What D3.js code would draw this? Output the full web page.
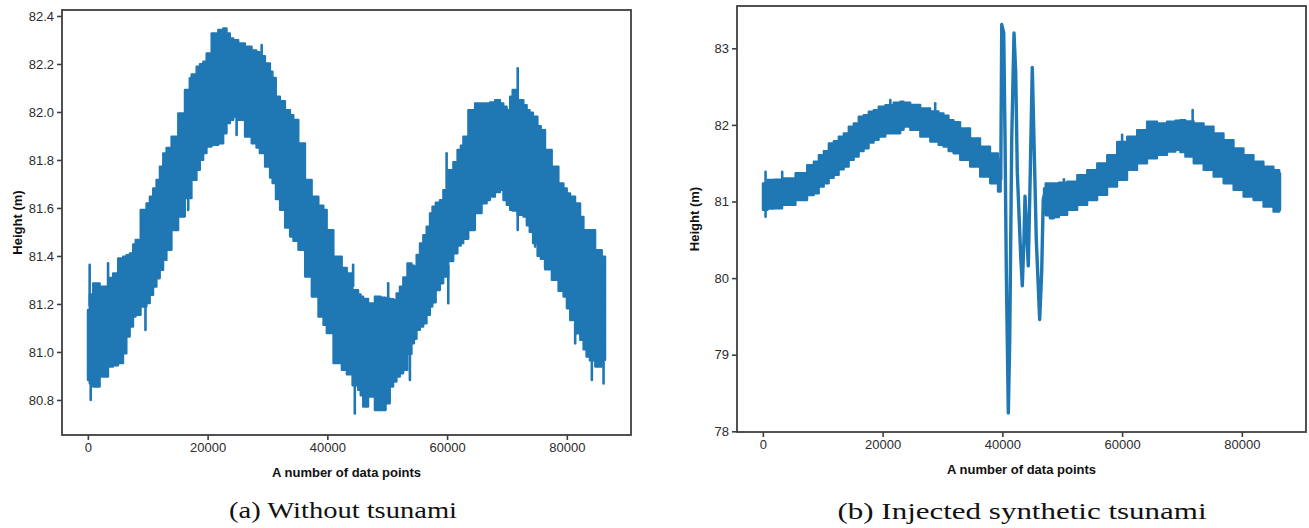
<!DOCTYPE html>
<html><head><meta charset="utf-8">
<script src="https://cdn.jsdelivr.net/npm/d3@7"></script>
<style>body{margin:0;background:#fff;}svg{display:block;}</style>
</head><body>
<svg id="chart" width="1309" height="528"></svg>
<script>
// ---------- data ----------
const xTicks = [0, 20000, 40000, 60000, 80000];
const xTickLabels = ["0", "20000", "40000", "60000", "80000"];
const leftYTicks = [80.8, 81.0, 81.2, 81.4, 81.6, 81.8, 82.0, 82.2, 82.4];
const leftYTickLabels = ["80.8", "81.0", "81.2", "81.4", "81.6", "81.8", "82.0", "82.2", "82.4"];
const rightYTicks = [78, 79, 80, 81, 82, 83];
const rightYTickLabels = ["78", "79", "80", "81", "82", "83"];
const xAxisTitle = "A number of data points";
const yAxisTitle = "Height (m)";
const captions = ["(a) Without tsunami", "(b) Injected synthetic tsunami"];

// (a) upper / lower envelope of the noisy band: [data point, height]
const leftUpper = [[0,81.175],[600,81.24],[1144,81.286],[2817,81.272],[4490,81.328],[5605,81.39],[7278,81.411],[8115,81.467],[9510,81.592],[10625,81.647],[11740,81.717],[12856,81.828],[14529,81.897],[15644,81.994],[16760,82.092],[18432,82.189],[19548,82.21],[20105,82.244],[21221,82.328],[22894,82.349],[24009,82.307],[25682,82.286],[26798,82.272],[28400,82.25],[30144,82.203],[30702,82.168],[31818,82.064],[33491,82.008],[34606,81.967],[35722,81.869],[36837,81.717],[37952,81.647],[39625,81.592],[40183,81.508],[41856,81.397],[43529,81.328],[44864,81.258],[45700,81.231],[47374,81.203],[48489,81.231],[51278,81.217],[52393,81.272],[53787,81.369],[54624,81.356],[55740,81.453],[56855,81.522],[57691,81.606],[59085,81.633],[60758,81.758],[62153,81.842],[62989,81.897],[64105,82.008],[65220,82.036],[66893,82.036],[68566,82.05],[70240,82.008],[71076,82.092],[72470,82.05],[73585,82.008],[74701,81.981],[75816,81.925],[76932,81.842],[78047,81.772],[79162,81.703],[80278,81.661],[81951,81.619],[83066,81.508],[84182,81.508],[85297,81.425],[86400,81.397]];
const leftLower = [[0,80.883],[1144,80.856],[2817,80.897],[3933,80.939],[5605,80.953],[6163,80.994],[6721,81.064],[7836,81.147],[10067,81.203],[11183,81.272],[12298,81.342],[13413,81.425],[14529,81.508],[15644,81.564],[17875,81.717],[18991,81.8],[20105,81.856],[22336,81.869],[23452,81.953],[24567,81.981],[25682,81.967],[26798,81.897],[27913,81.869],[29029,81.828],[30144,81.772],[30981,81.703],[32375,81.592],[34048,81.481],[35722,81.425],[36837,81.314],[37952,81.231],[39068,81.147],[40183,81.078],[41856,80.953],[42971,80.925],[45421,80.842],[46258,80.772],[47374,80.814],[48489,80.758],[49325,80.758],[50162,80.786],[50720,80.856],[51835,80.897],[52951,80.925],[54345,81.036],[55182,81.092],[56297,81.119],[57412,81.189],[58528,81.258],[59643,81.314],[61316,81.411],[62431,81.453],[64105,81.508],[65220,81.578],[66336,81.619],[67451,81.647],[69124,81.675],[69682,81.633],[70797,81.592],[73027,81.564],[74000,81.5],[75500,81.4],[78047,81.3],[79720,81.231],[80836,81.133],[82509,81.05],[83500,80.98],[85297,80.939],[86400,80.967]];
// (a) isolated spikes reaching beyond the band: [data point, tip height]
const leftSpikesUp = [[300,81.363],[3375,81.37],[8952,81.508],[17038,82.14],[29029,82.279],[44306,81.363],[50162,81.286],[59922,81.828],[71801,82.182]];
const leftSpikesDown = [[475,80.80],[9621,81.092],[16760,81.592],[24846,81.904],[44585,80.744],[53787,80.883],[60201,81.203],[71801,81.508],[74701,81.439],[76374,81.35],[81394,81.036],[84182,80.883],[86134,80.869]];

// (b) band before the injected wave
const rightUpperA = [[0,81.237],[1562,81.281],[4340,81.302],[6562,81.37],[8229,81.476],[9896,81.607],[11562,81.759],[13229,81.846],[14896,81.977],[16563,82.107],[18230,82.173],[19896,82.238],[23230,82.303],[25453,82.26],[27120,82.216],[29897,82.151],[31564,82.064],[33786,81.955],[35453,81.825],[37120,81.716],[38787,81.629],[39733,81.54]];
const rightLowerA = [[0,80.889],[2117,80.911],[4340,80.954],[6562,81.019],[8785,81.106],[10452,81.237],[12119,81.346],[13785,81.455],[15452,81.585],[17119,81.694],[18786,81.803],[21008,81.89],[22675,81.89],[23786,81.977],[25453,81.933],[27120,81.846],[28786,81.781],[30453,81.716],[32120,81.629],[33786,81.542],[35453,81.455],[37120,81.324],[38787,81.237],[39733,81.13]];
// (b) band after the injected wave
const rightUpperB = [[46950,81.172],[47506,81.237],[48895,81.237],[51673,81.259],[53340,81.346],[55006,81.411],[56673,81.498],[58340,81.607],[60007,81.78],[61673,81.846],[63340,81.933],[65007,82.042],[66674,82.02],[68340,82.042],[70007,82.064],[72785,82.02],[74452,81.977],[76118,81.89],[77785,81.803],[79452,81.694],[81118,81.607],[82785,81.52],[84452,81.455],[86118,81.411],[86400,81.368]];
const rightLowerB = [[46950,80.845],[48340,80.78],[50007,80.824],[51673,80.889],[53340,80.954],[55006,81.019],[56673,81.085],[58340,81.194],[60007,81.281],[61673,81.411],[63340,81.498],[65007,81.563],[66674,81.607],[68340,81.65],[69451,81.672],[71118,81.585],[72785,81.498],[74452,81.411],[76118,81.324],[77785,81.237],[79452,81.15],[81118,81.063],[82785,81.019],[84452,80.933],[86118,80.867],[86400,80.889]];
// (b) injected synthetic tsunami trace
const rightWave = [[39733,81.29],[39900,83.31],[40233,83.2],[40450,81.81],[40667,80.07],[41000,78.24],[41233,79.2],[41567,81.81],[41950,83.2],[42233,82.68],[42500,81.38],[43067,80.29],[43333,79.9],[43617,80.51],[43783,81.07],[44000,80.72],[44333,80.16],[44667,81.38],[45000,82.75],[45283,81.81],[45667,80.51],[46233,79.46],[46567,80.07],[46833,81.03],[47117,81.11]];
const rightSpikesUp = [[450,81.389],[3228,81.389],[21286,82.325],[28786,82.281],[50284,81.289],[60007,81.87],[71785,82.194]];
const rightSpikesDown = [[450,80.802]];

// ---------- drawing ----------
const svg = d3.select("#chart");
const BLUE = "#1f77b4";
const FRAME = "#3f3f3f";
const TICKFONT = "'Liberation Sans', Arial, sans-serif";
const SERIF = "'Liberation Serif', 'Times New Roman', serif";

function interp(arr, v) {
  const i = d3.bisector(d => d[0]).left(arr, v);
  if (i <= 0) return arr[0][1];
  if (i >= arr.length) return arr[arr.length - 1][1];
  const a = arr[i - 1], b = arr[i];
  const t = (v - a[0]) / (b[0] - a[0]);
  return a[1] + t * (b[1] - a[1]);
}

function panel(cfg) {
  const x = d3.scaleLinear().domain([-4320, 90720]).range([cfg.x0, cfg.x1]);
  const y = d3.scaleLinear().domain(cfg.yDomain).range([cfg.y1, cfg.y0]);
  const g = svg.append("g");
  const clipId = "clip" + cfg.id;
  g.append("clipPath").attr("id", clipId).append("rect")
    .attr("x", cfg.x0).attr("y", cfg.y0).attr("width", cfg.x1 - cfg.x0).attr("height", cfg.y1 - cfg.y0);
  const plot = g.append("g").attr("clip-path", `url(#${clipId})`);
  const line = d3.line().x(d => x(d[0])).y(d => y(d[1]));
  const area = d3.area().x(d => x(d[0])).y0(d => y(d[2])).y1(d => y(d[1])).curve(d3.curveStep);

  cfg.bands.forEach(([up, lo]) => {
    // merge the two envelopes on a common set of x positions
    const xs = Array.from(new Set(up.map(d => d[0]).concat(lo.map(d => d[0])))).sort((a, b) => a - b);
    const rows = xs.map(v => [v, interp(up, v), interp(lo, v)]);
    plot.append("path").attr("d", area(rows))
      .attr("fill", BLUE).attr("stroke", BLUE).attr("stroke-width", 2.2)
      .attr("stroke-linejoin", "round");
  });
  cfg.spikes.forEach(([list, env]) => {
    list.forEach(s => {
      const base = interp(env, s[0]);
      plot.append("line")
        .attr("x1", x(s[0])).attr("x2", x(s[0]))
        .attr("y1", y(s[1])).attr("y2", y(base) + (s[1] > base ? 3 : -3))
        .attr("stroke", BLUE).attr("stroke-width", 2.6).attr("stroke-linecap", "round");
    });
  });
  if (cfg.wave) {
    plot.append("path").attr("d", line(cfg.wave)).attr("fill", "none")
      .attr("stroke", BLUE).attr("stroke-width", 3.4)
      .attr("stroke-linejoin", "round").attr("stroke-linecap", "round");
  }

  // frame
  g.append("rect").attr("x", cfg.x0).attr("y", cfg.y0)
    .attr("width", cfg.x1 - cfg.x0).attr("height", cfg.y1 - cfg.y0)
    .attr("fill", "none").attr("stroke", FRAME).attr("stroke-width", 1.8);

  // axes
  const xa = g.append("g").attr("transform", `translate(0,${cfg.y1})`)
    .call(d3.axisBottom(x).tickValues(xTicks).tickFormat((d, i) => xTickLabels[i])
      .tickSize(5).tickSizeOuter(0).tickPadding(3));
  const ya = g.append("g").attr("transform", `translate(${cfg.x0},0)`)
    .call(d3.axisLeft(y).tickValues(cfg.yTicks).tickFormat((d, i) => cfg.yLabels[i])
      .tickSize(5).tickSizeOuter(0).tickPadding(3));
  [xa, ya].forEach(a => {
    a.select(".domain").remove();
    a.selectAll(".tick line").attr("stroke", FRAME).attr("stroke-width", 1.6);
    a.selectAll(".tick text").attr("fill", "#2b2b2b")
      .style("font-family", TICKFONT).style("font-size", "13px");
  });

  // titles
  g.append("text").attr("x", (cfg.x0 + cfg.x1) / 2).attr("y", cfg.xTitleY)
    .attr("text-anchor", "middle").style("font-family", TICKFONT)
    .style("font-size", "13px").style("font-weight", "bold").attr("fill", "#111")
    .text(xAxisTitle);
  g.append("text")
    .attr("transform", `translate(${cfg.yTitleX},${(cfg.y0 + cfg.y1) / 2}) rotate(-90)`)
    .attr("text-anchor", "middle").style("font-family", TICKFONT)
    .style("font-size", "13px").style("font-weight", "bold").attr("fill", "#111")
    .text(yAxisTitle);
  g.append("text").attr("x", cfg.capX).attr("y", cfg.capY)
    .attr("text-anchor", "middle").style("font-family", SERIF)
    .style("font-size", "24px").attr("fill", "#111")
    .attr("textLength", cfg.capW).attr("lengthAdjust", "spacingAndGlyphs")
    .text(cfg.caption);
}

panel({
  id: "a", x0: 62, x1: 631, y0: 10, y1: 435, yDomain: [80.654, 82.425],
  yTicks: leftYTicks, yLabels: leftYTickLabels,
  bands: [[leftUpper, leftLower]],
  spikes: [[leftSpikesUp, leftUpper], [leftSpikesDown, leftLower]],
  wave: null, xTitleY: 477, yTitleX: 22,
  caption: captions[0], capX: 343, capY: 518, capW: 228
});
panel({
  id: "b", x0: 737, x1: 1306, y0: 6, y1: 432, yDomain: [77.991, 83.552],
  yTicks: rightYTicks, yLabels: rightYTickLabels,
  bands: [[rightUpperA, rightLowerA], [rightUpperB, rightLowerB]],
  spikes: [[rightSpikesUp, rightUpperA.concat(rightUpperB)], [rightSpikesDown, rightLowerA]],
  wave: rightWave, xTitleY: 474, yTitleX: 699,
  caption: captions[1], capX: 1022, capY: 519, capW: 369
});
</script>
</body></html>
